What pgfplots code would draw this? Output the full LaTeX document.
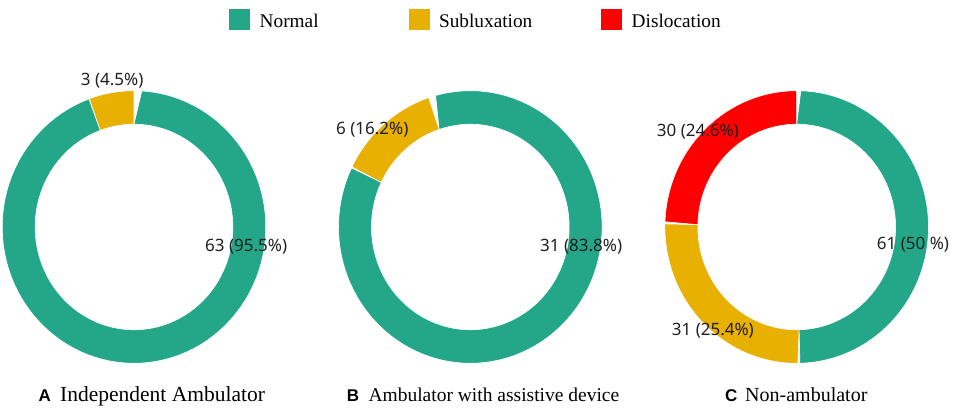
\documentclass[border=0pt]{standalone}
\usepackage{fontspec}
\setmainfont{Liberation Serif}
\newfontfamily\lblfont{Noto Sans}
\newfontfamily\capfont{Liberation Sans}
\usepackage{pgfplots}
\pgfplotsset{compat=1.18}
\definecolor{normalc}{HTML}{23A788}
\definecolor{subc}{HTML}{E8B000}
\definecolor{disc}{HTML}{FF0000}

% one ring segment: colour, centre x, centre y, start angle, end angle (degrees)
\newcommand{\seg}[5]{%
  \addplot[forget plot, fill=#1, draw=white, line width=0.6pt, line join=round, variable=\t,
    samples at={0,1,...,100,100.0001,101,102,...,200}]
  ({#2 + ifthenelse(\t<100.00005,131.8,98.9)*cos(ifthenelse(\t<100.00005,#4+(#5-#4)*\t/100,#5-(#5-#4)*(\t-100)/100))},
   {#3 + ifthenelse(\t<100.00005,136.3,102.8)*sin(ifthenelse(\t<100.00005,#4+(#5-#4)*\t/100,#5-(#5-#4)*(\t-100)/100))}) -- cycle;
}

\begin{document}
\begin{tikzpicture}
\begin{axis}[
  x=1pt, y=1pt, xmin=0, xmax=957, ymin=0, ymax=409,
  enlargelimits=false, hide axis, clip=false,
  legend columns=3,
  legend image code/.code={\fill[#1] (0pt,-8.5pt) rectangle (20pt,11.5pt);},
  legend style={draw=none, fill=none, inner sep=0pt, outer sep=0pt,
    font=\fontsize{19.3}{22}\selectfont,
    at={(axis cs:229.3,389)}, anchor=west,
    /tikz/column 1/.style={column sep=8pt},
    /tikz/column 2/.style={column sep=88pt},
    /tikz/column 3/.style={column sep=8pt},
    /tikz/column 4/.style={column sep=67pt},
    /tikz/column 5/.style={column sep=8pt}},
]
\addlegendimage{normalc}\addlegendentry{Normal}
\addlegendimage{subc}\addlegendentry{Subluxation}
\addlegendimage{disc}\addlegendentry{Dislocation}

\addplot[forget plot, draw=none] coordinates {(0,0) (957,409)};

% A  Independent Ambulator: Normal 63, Subluxation 3
\seg{subc}{134}{182}{90}{110}
\seg{normalc}{134}{182}{110}{450}
% B  Ambulator with assistive device: Normal 31, Subluxation 6
\seg{subc}{470.3}{182}{108.4}{154.3}
\seg{normalc}{470.3}{182}{154.3}{468.4}
% C  Non-ambulator: Normal 61, Subluxation 31, Dislocation 30
\seg{disc}{796.7}{182}{90}{178.7}
\seg{subc}{796.7}{182}{178.7}{271.4}
\seg{normalc}{796.7}{182}{271.4}{450}

\tikzset{lbl/.style={anchor=base west, inner sep=0pt, text=black!88,
  font=\lblfont\fontsize{17}{20}\selectfont}}
\node[lbl] at (axis cs:80.7,323) {3 (4.5\%)};
\node[lbl] at (axis cs:205,157) {63 (95.5\%)};
\node[lbl] at (axis cs:336,274) {6 (16.2\%)};
\node[lbl] at (axis cs:540,157.3) {31 (83.8\%)};
\node[lbl] at (axis cs:656.7,272) {30 (24.6\%)};
\node[lbl] at (axis cs:876.7,159) {61 (50 \%)};
\node[lbl] at (axis cs:671.7,73) {31 (25.4\%)};

\tikzset{captxt/.style={anchor=base west, inner sep=0pt, font=\fontsize{20}{24}\selectfont},
         capltr/.style={anchor=base west, inner sep=0pt, font=\capfont\bfseries\fontsize{17}{20}\selectfont}}
\node[capltr] at (axis cs:38.3,8) {A};
\node[captxt, font=\fontsize{21.5}{24}\selectfont] at (axis cs:60,8) {Independent Ambulator};
\node[capltr] at (axis cs:346.7,8) {B};
\node[captxt, font=\fontsize{19.5}{24}\selectfont] at (axis cs:368.3,8) {Ambulator with assistive device};
\node[capltr] at (axis cs:725,8) {C};
\node[captxt] at (axis cs:745,8) {Non-ambulator};
\end{axis}
\end{tikzpicture}
\end{document}
